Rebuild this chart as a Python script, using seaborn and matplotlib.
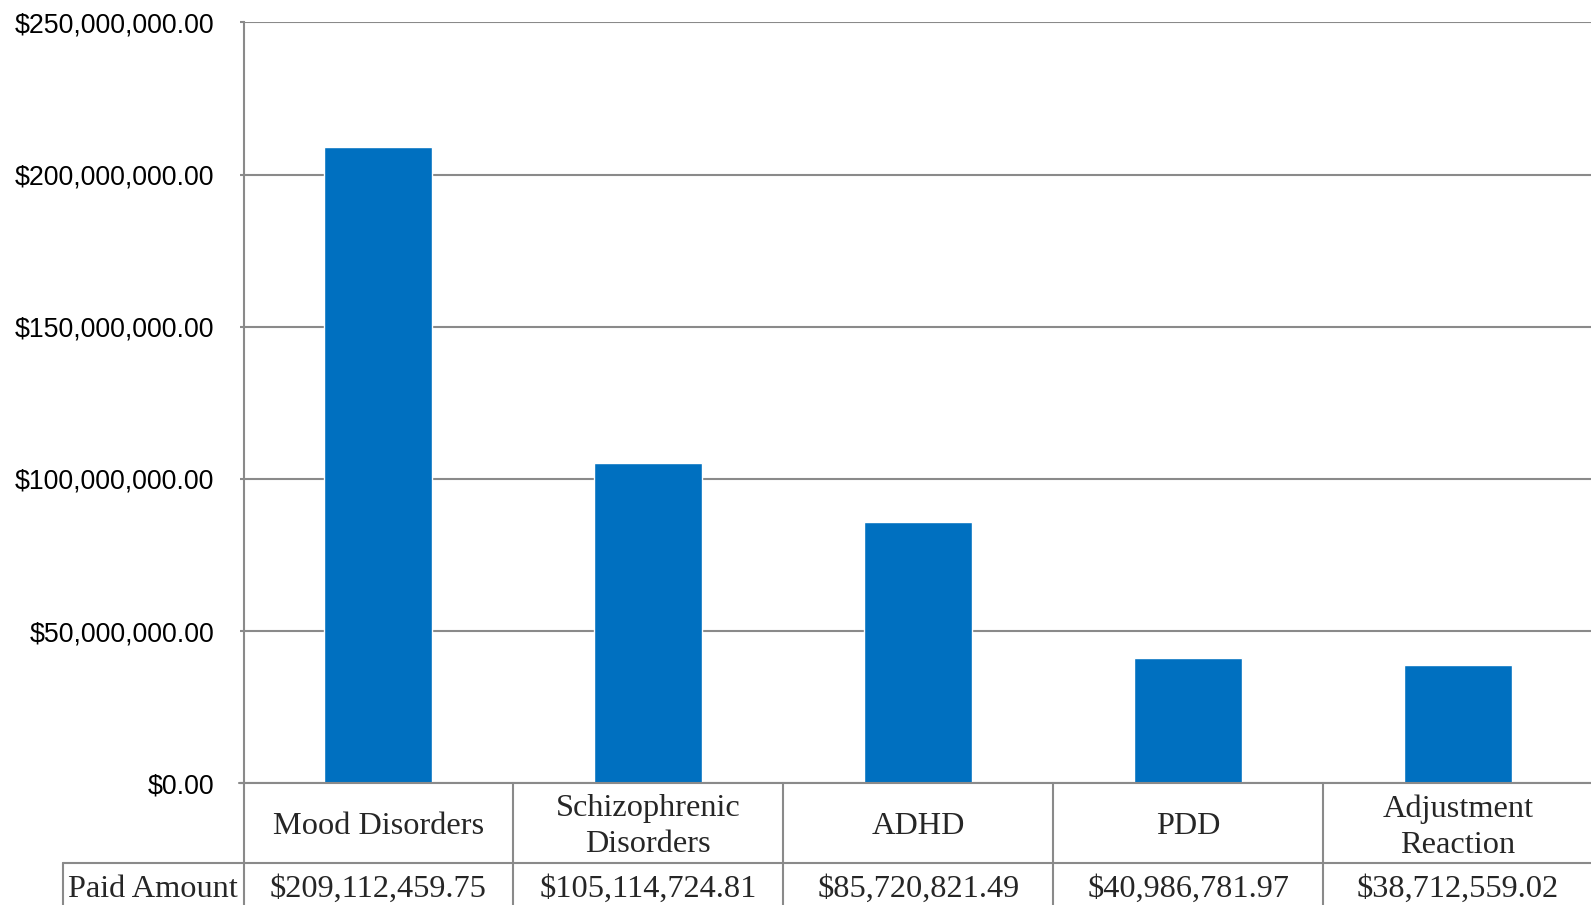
import matplotlib
matplotlib.use("Agg")
import matplotlib.pyplot as plt
from matplotlib.ticker import FuncFormatter
import seaborn as sns
import pandas as pd

categories = ["Mood Disorders", "Schizophrenic\nDisorders", "ADHD", "PDD", "Adjustment\nReaction"]
paid_amount = [209112459.75, 105114724.81, 85720821.49, 40986781.97, 38712559.02]
row_label = "Paid Amount"
y_ticks = [0, 50000000, 100000000, 150000000, 200000000, 250000000]

df = pd.DataFrame({"category": categories, "paid": paid_amount})

sns.set_style("white")
plt.rcParams["font.family"] = ["Liberation Sans", "DejaVu Sans"]

fig = plt.figure(figsize=(15.91, 9.05), dpi=100)
ax = fig.add_axes([240 / 1568, 120 / 892, 1 - 240 / 1568, 750 / 892])

bar_color = "#0070C0"
grid_color = "#8a8a8a"

sns.barplot(data=df, x="category", y="paid", color=bar_color, saturation=1,
            width=0.4, ax=ax, zorder=3)

cat_w = 266.0  # display px per category
ax.set_ylim(0, 250000000)
ax.set_xlim(-0.5, -0.5 + 1328 / cat_w)
ax.set_yticks(y_ticks)
ax.yaxis.set_major_formatter(FuncFormatter(lambda v, p: "${:,.2f}".format(v)))
ax.tick_params(axis="y", labelsize=19.3, length=3, width=1.5, color=grid_color,
               pad=18, left=True, labelcolor="black")
ax.set_xticks([])
ax.set_xlabel("")
ax.set_ylabel("")

ax.grid(axis="y", color=grid_color, linewidth=1.5, zorder=0)
ax.set_axisbelow(True)
for s in ["top", "right", "bottom"]:
    ax.spines[s].set_visible(False)
ax.spines["left"].set_color(grid_color)
ax.spines["left"].set_linewidth(1.5)

# data table below the plot
trans = ax.get_xaxis_transform()
n = len(categories)
row1_bottom = -79 / 750
table_bottom = -140 / 750
serif = ["Liberation Serif", "DejaVu Serif"]

for i in range(n):
    ax.plot([i - 0.5, i - 0.5], [0, table_bottom], transform=trans, color=grid_color,
            linewidth=1.5, clip_on=False, zorder=1)
ax.plot([-0.5 - 4 / cat_w, ax.get_xlim()[1]], [0, 0], transform=trans, color=grid_color,
        linewidth=1.5, clip_on=False, zorder=4)
header_left = -0.5 - 178 / cat_w
ax.plot([header_left, ax.get_xlim()[1]], [row1_bottom, row1_bottom], transform=trans,
        color=grid_color, linewidth=1.5, clip_on=False, zorder=1)
ax.plot([header_left, header_left], [row1_bottom, table_bottom], transform=trans,
        color=grid_color, linewidth=1.5, clip_on=False, zorder=1)

for i, (c, v) in enumerate(zip(categories, paid_amount)):
    ax.text(i, -43 / 750, c, transform=trans, ha="center", va="center",
            fontsize=23.3, family=serif, linespacing=1.32)
    ax.text(i, -105 / 750, "${:,.2f}".format(v), transform=trans, ha="center",
            va="center", fontsize=23.3, family=serif)
ax.text((header_left - 0.5) / 2, -105 / 750, row_label, transform=trans, ha="center",
        va="center", fontsize=23.3, family=serif)

fig.savefig("out.png", dpi=100)
